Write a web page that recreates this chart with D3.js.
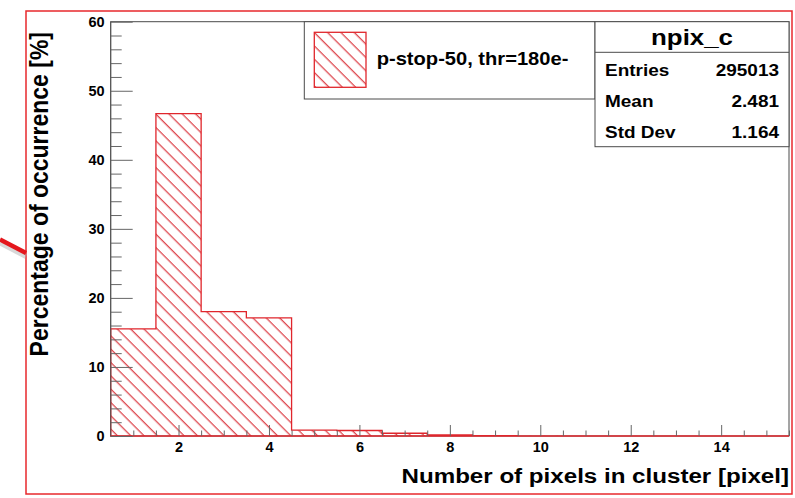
<!DOCTYPE html>
<html>
<head>
<meta charset="utf-8">
<script src="https://cdn.jsdelivr.net/npm/d3@7"></script>
<style>
  body { margin: 0; background: #fff; }
  svg text { font-family: "Liberation Sans", Arial, Helvetica, sans-serif; font-weight: bold; fill: #000; }
</style>
</head>
<body>
<div id="chart"></div>
<script>
// histogram npix_c : bin centres 1..15, percentage per bin
const binCenters = [1, 2, 3, 4, 5, 6, 7, 8, 9, 10, 11, 12, 13, 14, 15];
const binValues = [15.5, 46.7, 18.0, 17.1, 0.85, 0.8, 0.4, 0.15, 0.05, 0.02, 0.01, 0, 0, 0, 0];

const xMajorTicks = [2, 4, 6, 8, 10, 12, 14];
const yMajorTicks = [0, 10, 20, 30, 40, 50, 60];

const legendLabel = "p-stop-50, thr=180e-";
const statsTitle = "npix_c";
const statsNames = ["Entries", "Mean", "Std Dev"];
const statsValues = ["295013", "2.481", "1.164"];

const xTitle = "Number of pixels in cluster [pixel]";
const yTitle = "Percentage of occurrence [%]";

const W = 795, H = 498;
const frame = { left: 110.7, top: 21.7, right: 789, bottom: 436 };
const stretch = 1.15; // the picture's text is a bit wide

const svg = d3.select("#chart").append("svg")
    .attr("width", W)
    .attr("height", H);

svg.append("rect").attr("width", W).attr("height", H).attr("fill", "#fff");

// red outer border of the slide
svg.append("rect")
    .attr("x", 26).attr("y", 11)
    .attr("width", 792 - 26).attr("height", 494 - 11)
    .attr("fill", "none")
    .attr("stroke", "#e8282c")
    .attr("stroke-width", 1.5);

// arrow pointing in from the left
svg.append("line")
    .attr("x1", 0).attr("y1", 243).attr("x2", 26).attr("y2", 256.5)
    .attr("stroke", "#aaa").attr("stroke-width", 5).attr("opacity", 0.45);
svg.append("line")
    .attr("x1", 0).attr("y1", 239.5).attr("x2", 26).attr("y2", 253)
    .attr("stroke", "#e4161c").attr("stroke-width", 4.5);

// scales
const x = d3.scaleLinear().domain([0.5, 15.5]).range([frame.left, frame.right]);
const y = d3.scaleLinear().domain([0, 60]).range([frame.bottom, frame.top]);

// hatch pattern (ROOT style \\\)
const defs = svg.append("defs");
defs.append("pattern")
    .attr("id", "hatch")
    .attr("patternUnits", "userSpaceOnUse")
    .attr("width", 9.43)
    .attr("height", 9.43)
    .attr("patternTransform", "rotate(45)")
    .append("line")
    .attr("x1", -1).attr("x2", 11).attr("y1", 8.25).attr("y2", 8.25)
    .attr("stroke", "#d8262e")
    .attr("stroke-width", 1.1);

// frame
svg.append("rect")
    .attr("x", frame.left).attr("y", frame.top)
    .attr("width", frame.right - frame.left)
    .attr("height", frame.bottom - frame.top)
    .attr("fill", "none")
    .attr("stroke", "#4a4a4a")
    .attr("stroke-width", 1);

// histogram as step area
const bins = binCenters.map((c, i) => ({ lo: c - 0.5, v: binValues[i] }));
bins.push({ lo: 15.5, v: binValues[binValues.length - 1] });

const area = d3.area()
    .x(d => x(d.lo))
    .y0(y(0))
    .y1(d => y(d.v))
    .curve(d3.curveStepAfter);

svg.append("path")
    .datum(bins)
    .attr("d", area)
    .attr("fill", "url(#hatch)")
    .attr("stroke", "#e0262c")
    .attr("stroke-width", 1.3);

// axes, ticks drawn inside the frame
function styleAxis(g) {
    g.select(".domain").remove();
    g.selectAll(".tick line").attr("stroke", "#666").attr("stroke-width", 1);
    g.selectAll(".tick text").attr("font-size", 14.5).attr("fill", "#000");
}

const yMinorTicks = d3.range(0, 61, 2).filter(v => v % 10 !== 0);
const xMinorTicks = d3.range(1, 15.51, 0.5).filter(v => v % 2 !== 0);

svg.append("g")
    .attr("transform", `translate(${frame.left},0)`)
    .call(d3.axisLeft(y).tickValues(yMinorTicks).tickSize(-11).tickFormat(""))
    .call(styleAxis);
svg.append("g")
    .attr("transform", `translate(${frame.left},0)`)
    .call(d3.axisLeft(y).tickValues(yMajorTicks).tickSize(-22).tickPadding(6).tickFormat(d3.format("d")))
    .call(styleAxis);

svg.append("g")
    .attr("transform", `translate(0,${frame.bottom})`)
    .call(d3.axisBottom(x).tickValues(xMinorTicks).tickSize(-5.5).tickFormat(""))
    .call(styleAxis);
svg.append("g")
    .attr("transform", `translate(0,${frame.bottom})`)
    .call(d3.axisBottom(x).tickValues(xMajorTicks).tickSize(-11).tickPadding(6).tickFormat(d3.format("d")))
    .call(styleAxis);

// left axis line over the hatch
svg.append("line")
    .attr("x1", frame.left).attr("x2", frame.left)
    .attr("y1", frame.top).attr("y2", frame.bottom)
    .attr("stroke", "#555");

// axis titles
svg.append("text")
    .attr("transform", `translate(${frame.right},483) scale(${stretch},1)`)
    .attr("text-anchor", "end")
    .attr("font-size", 21)
    .text(xTitle);

svg.append("text")
    .attr("transform", `translate(48,32) scale(${stretch},1) rotate(-90)`)
    .attr("text-anchor", "end")
    .attr("font-size", 23)
    .text(yTitle);

// legend box
const leg = { left: 304.3, top: frame.top, right: 595, bottom: 99 };
svg.append("rect")
    .attr("x", leg.left).attr("y", leg.top)
    .attr("width", leg.right - leg.left).attr("height", leg.bottom - leg.top)
    .attr("fill", "#fff").attr("stroke", "#4a4a4a").attr("stroke-width", 1);
svg.append("rect")
    .attr("x", 314.3).attr("y", 32.3)
    .attr("width", 366 - 314.3).attr("height", 87.3 - 32.3)
    .attr("fill", "url(#hatch)")
    .attr("stroke", "#e0262c").attr("stroke-width", 1.3);
svg.append("text")
    .attr("transform", `translate(376.7,65) scale(${stretch},1)`)
    .attr("font-size", 17.5)
    .text(legendLabel);

// stats box
const st = { left: 595, top: frame.top, right: frame.right, bottom: 146.7, split: 52.3 };
svg.append("rect")
    .attr("x", st.left).attr("y", st.top)
    .attr("width", st.right - st.left).attr("height", st.bottom - st.top)
    .attr("fill", "#fff").attr("stroke", "#4a4a4a").attr("stroke-width", 1);
svg.append("line")
    .attr("x1", st.left).attr("x2", st.right)
    .attr("y1", st.split).attr("y2", st.split)
    .attr("stroke", "#4a4a4a");
svg.append("text")
    .attr("transform", `translate(${(st.left + st.right) / 2},45) scale(${stretch},1)`)
    .attr("text-anchor", "middle")
    .attr("font-size", 22.5)
    .text(statsTitle);

const rowY = d3.scalePoint().domain(statsNames).range([76, 138.3]);
statsNames.forEach((name, i) => {
    svg.append("text")
        .attr("transform", `translate(605,${rowY(name)}) scale(${stretch},1)`)
        .attr("font-size", 16.5)
        .text(name);
    svg.append("text")
        .attr("transform", `translate(779,${rowY(name)}) scale(${stretch},1)`)
        .attr("text-anchor", "end")
        .attr("font-size", 16.5)
        .text(statsValues[i]);
});
</script>
</body>
</html>
